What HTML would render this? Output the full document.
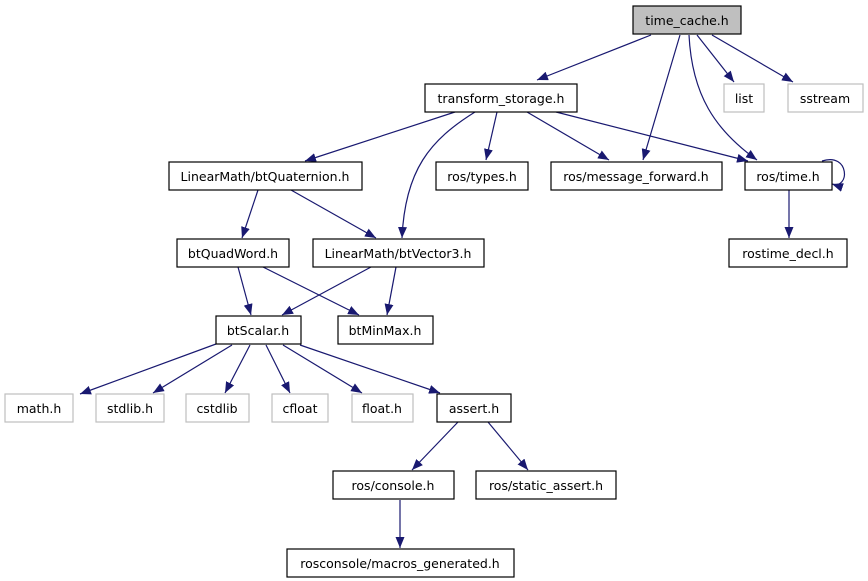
<!DOCTYPE html>
<html><head><style>
body{margin:0;background:#fff;}
svg{display:block;}
text{font-family:"DejaVu Sans","Liberation Sans",sans-serif;font-size:12.5px;fill:#000;}
</style></head><body>
<svg width="868" height="581" xmlns="http://www.w3.org/2000/svg">
<defs>
<marker id="a" markerWidth="11" markerHeight="9" refX="11" refY="4.5" orient="auto" markerUnits="userSpaceOnUse">
<path d="M0,0 L11,4.5 L0,9 z" fill="#191970"/>
</marker>
</defs>
<g fill="none" stroke="#191970" stroke-width="1.2" marker-end="url(#a)">
<path d="M651,35 L537,80"/>
<path d="M680,35 L643,160"/>
<path d="M689,35 C692,95 715,130 757,160"/>
<path d="M697,35 L734,82"/>
<path d="M712,35 L793,82"/>
<path d="M455,112 L305,161"/>
<path d="M475,112 C430,140 405,170 402,238"/>
<path d="M497,112 L486,160"/>
<path d="M527,112 L609,160"/>
<path d="M556,112 L748,161"/>
<path d="M822,161 C850,152 850,190 832,184"/>
<path d="M789,190 L789,238"/>
<path d="M258,190 L242,238"/>
<path d="M291,190 L376,238"/>
<path d="M238,267 L251,315"/>
<path d="M263,267 L359,315"/>
<path d="M371,267 L282,315"/>
<path d="M396,267 L387,315"/>
<path d="M216,344 L80,394"/>
<path d="M232,345 L153,393"/>
<path d="M250,345 L225,393"/>
<path d="M266,345 L290,393"/>
<path d="M283,345 L362,393"/>
<path d="M300,345 L440,393"/>
<path d="M458,422 L412,470"/>
<path d="M488,422 L528,470"/>
<path d="M400,500 L400,548"/>
</g>
<g stroke-width="1.2">
<rect x="633" y="6" width="108" height="28" fill="#bfbfbf" stroke="#000"/>
<rect x="425" y="84" width="152" height="28" fill="#fff" stroke="#000"/>
<rect x="724" y="84" width="40" height="28" fill="#fff" stroke="#bfbfbf"/>
<rect x="788" y="84" width="75" height="28" fill="#fff" stroke="#bfbfbf"/>
<rect x="169" y="162" width="193" height="28" fill="#fff" stroke="#000"/>
<rect x="436" y="162" width="92" height="28" fill="#fff" stroke="#000"/>
<rect x="551" y="162" width="171" height="28" fill="#fff" stroke="#000"/>
<rect x="745" y="162" width="87" height="28" fill="#fff" stroke="#000"/>
<rect x="729" y="239" width="118" height="28" fill="#fff" stroke="#000"/>
<rect x="177" y="239" width="112" height="28" fill="#fff" stroke="#000"/>
<rect x="313" y="239" width="171" height="28" fill="#fff" stroke="#000"/>
<rect x="216" y="316" width="85" height="28" fill="#fff" stroke="#000"/>
<rect x="338" y="316" width="95" height="28" fill="#fff" stroke="#000"/>
<rect x="5" y="394" width="68" height="28" fill="#fff" stroke="#bfbfbf"/>
<rect x="96" y="394" width="68" height="28" fill="#fff" stroke="#bfbfbf"/>
<rect x="186" y="394" width="63" height="28" fill="#fff" stroke="#bfbfbf"/>
<rect x="272" y="394" width="56" height="28" fill="#fff" stroke="#bfbfbf"/>
<rect x="352" y="394" width="61" height="28" fill="#fff" stroke="#bfbfbf"/>
<rect x="437" y="394" width="74" height="28" fill="#fff" stroke="#000"/>
<rect x="333" y="471" width="121" height="28" fill="#fff" stroke="#000"/>
<rect x="476" y="471" width="140" height="28" fill="#fff" stroke="#000"/>
<rect x="287" y="549" width="227" height="28" fill="#fff" stroke="#000"/>
</g>
<g text-anchor="middle">
<text x="687" y="25">time_cache.h</text>
<text x="501" y="103">transform_storage.h</text>
<text x="744" y="103">list</text>
<text x="825" y="103">sstream</text>
<text x="265" y="181">LinearMath/btQuaternion.h</text>
<text x="482" y="181">ros/types.h</text>
<text x="636" y="181">ros/message_forward.h</text>
<text x="788" y="181">ros/time.h</text>
<text x="788" y="258">rostime_decl.h</text>
<text x="233" y="258">btQuadWord.h</text>
<text x="398" y="258">LinearMath/btVector3.h</text>
<text x="258" y="335">btScalar.h</text>
<text x="385" y="335">btMinMax.h</text>
<text x="39" y="413">math.h</text>
<text x="130" y="413">stdlib.h</text>
<text x="217" y="413">cstdlib</text>
<text x="300" y="413">cfloat</text>
<text x="382" y="413">float.h</text>
<text x="474" y="413">assert.h</text>
<text x="393" y="490">ros/console.h</text>
<text x="546" y="490">ros/static_assert.h</text>
<text x="400" y="568">rosconsole/macros_generated.h</text>
</g>
</svg>
</body></html>
